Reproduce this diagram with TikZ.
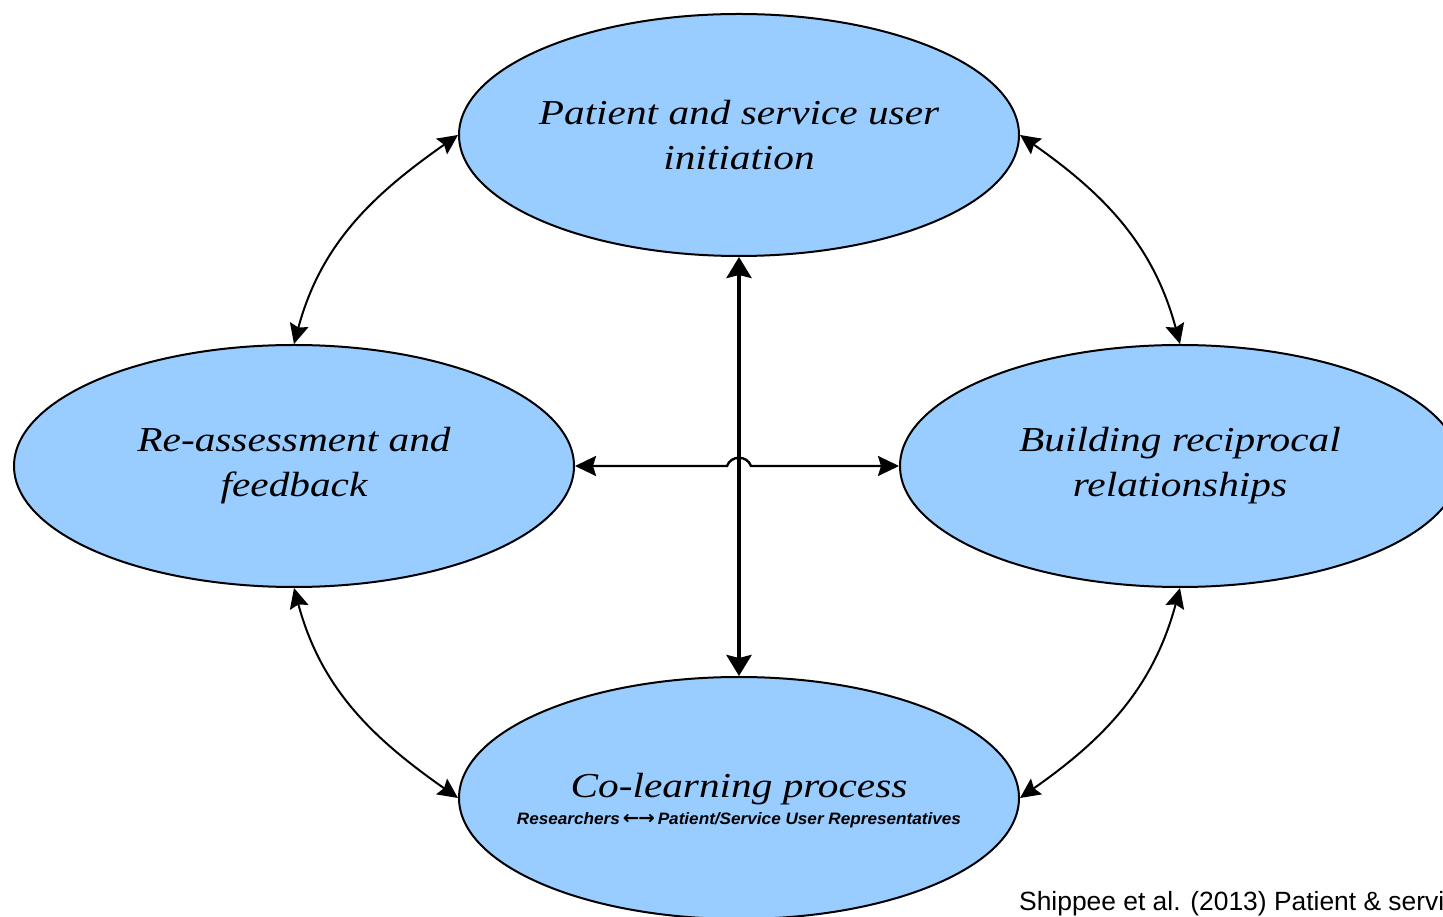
\documentclass[tikz,border=0pt]{standalone}
\usepackage{fontspec}
\setmainfont{Liberation Serif}
\newfontfamily\capfont{Liberation Sans}
\newfontfamily\symfont{DejaVu Sans}
\usetikzlibrary{shapes.geometric,arrows.meta}
\definecolor{ellfill}{RGB}{153,204,255}
\newcommand{\wideline}[1]{\scalebox{1.18}[1]{#1}}
\tikzset{
  ell/.style={ellipse, draw=black, line width=2pt, fill=ellfill,
    minimum width=560pt, minimum height=242pt, inner sep=0pt},
  lbl/.style={align=center, inner sep=0pt, font=\itshape\fontsize{35}{45}\selectfont},
  link/.style={{Stealth[length=20pt,width=19pt,inset=3pt]}-{Stealth[length=20pt,width=19pt,inset=3pt]}, line width=2pt},
  thick link/.style={{Stealth[length=21pt,width=25pt,inset=3pt]}-{Stealth[length=21pt,width=25pt,inset=3pt]}, line width=4pt},
  mid link/.style={{Stealth[length=21pt,width=20pt,inset=3pt]}-{Stealth[length=21pt,width=20pt,inset=3pt]}, line width=2.4pt},
}
\begin{document}
\begin{tikzpicture}[x=1pt,y=1pt]
\useasboundingbox (0,0) rectangle (1443,916);
\clip (0,0) rectangle (1443,916);
\fill[white] (0,0) rectangle (1443,916);
\node[ell] (top) at (739,781) {};
\node[ell] (left) at (294,450) {};
\node[ell] (right) at (1180,450) {};
\node[ell] (bot) at (739,118) {};
\node[lbl] (toplbl) at (top.center) {\wideline{Patient and service user}\\\wideline{initiation}};
\node[lbl] (leftlbl) at (left.center) {\wideline{Re-assessment and}\\\wideline{feedback}};
\node[lbl] (rightlbl) at (right.center) {\wideline{Building reciprocal}\\\wideline{relationships}};
\node[lbl] (botlbl) at ([yshift=-3pt]bot.center) {\wideline{Co-learning process}\\[-18pt]\scalebox{1.04}[1]{\upshape\capfont\bfseries\itshape\fontsize{16.5}{18}\selectfont Researchers\,{\symfont\bfseries\fontsize{19}{18}\selectfont ←\kern-1pt→}\,Patient/Service User Representatives}};
\draw[link] (left.north) to[out=75,in=215] (top.west);
\draw[link] (right.north) to[out=105,in=-35] (top.east);
\draw[link] (left.south) to[out=-75,in=145] (bot.west);
\draw[link] (right.south) to[out=-105,in=35] (bot.east);
\coordinate (hopL) at (727,450);
\coordinate (hopR) at (751,450);
\draw[mid link] (left.east) -- (hopL) .. controls (731,461) and (747,461) .. (hopR) -- (right.west);
\draw[thick link] (top.south) -- (bot.north);
\node[anchor=base west, font=\capfont\fontsize{26.4}{30}\selectfont, inner sep=0pt] (cap) at (1019,6) {Shippee et al. (2013) Patient \& servi};
\end{tikzpicture}
\end{document}
